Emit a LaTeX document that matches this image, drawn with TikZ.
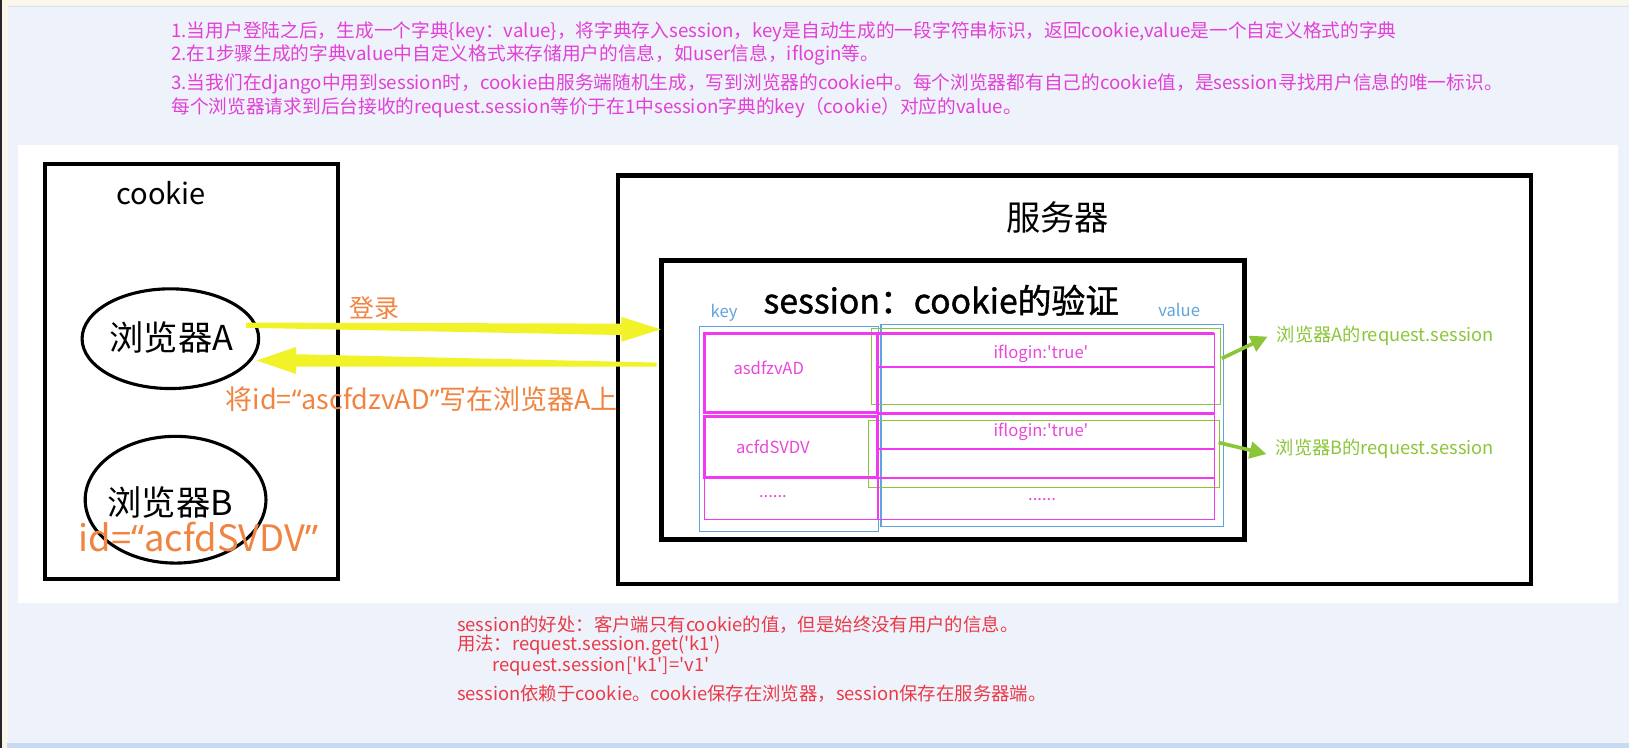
\documentclass[tikz,border=0pt]{standalone}
\usepackage{fontspec}
\newfontfamily\cjk{Noto Sans CJK SC}
\newfontfamily\cjkheavy{Noto Sans CJK SC}[FakeBold=1.2]
\newfontfamily\lat{Noto Sans}
\usetikzlibrary{arrows.meta,calc}
\definecolor{bgc}{RGB}{238,243,251}
\definecolor{beigec}{RGB}{251,246,234}
\definecolor{bandc}{RGB}{200,218,242}
\definecolor{topmag}{RGB}{226,64,214}
\definecolor{boxmag}{RGB}{242,56,240}
\definecolor{tabmag}{RGB}{232,72,220}
\definecolor{redc}{RGB}{234,58,72}
\definecolor{orangec}{RGB}{240,132,64}
\definecolor{yellowc}{RGB}{242,242,40}
\definecolor{greenc}{RGB}{140,198,56}
\definecolor{bluec}{RGB}{96,164,222}
\newcommand\myopenq{{\lat “}}
\newcommand\mycloseq{{\lat ”}}
\begin{document}
\begin{tikzpicture}[x=1pt,y=-1pt,
  every node/.style={inner sep=0pt,outer sep=0pt},
  fs/.style={font=\cjk\fontsize{#1}{#1}\selectfont},
  toptext/.style={fs=18,text=topmag,anchor=west},
  bottext/.style={fs=17.7,text=redc,anchor=west},
  heavybox/.style={draw=black,line width=4pt},
  keybox/.style={draw=bluec,line width=1pt},
  grnbox/.style={draw=greenc,line width=1pt},
  magthick/.style={draw=boxmag,line width=3pt},
  magthin/.style={draw=boxmag,line width=1.5pt},
  tabtext/.style={fs=16,text=tabmag},
  grntext/.style={fs=17.6,text=greenc,anchor=west},
  grnarrow/.style={draw=greenc,line width=3.5pt,-{Triangle[length=16pt,width=16pt]}},
]
\path[use as bounding box] (0,0) rectangle (1568,720);
% background
\fill[bgc] (0,0) rectangle (1568,720);
\fill[beigec] (0,0) rectangle (1568,5);
\draw[black!12,line width=1pt] (6,6) -- (1568,6);
\fill[beigec] (0,0) rectangle (8,720);
\fill[black!85] (0,0) rectangle (2,720);
\fill[bandc] (7,715) rectangle (1568,720);
\fill[white] (17,140) rectangle (1557,580);

% top text
\node[toptext] (t1) at (165,31) {1.当用户登陆之后，生成一个字典\{key：value\}，将字典存入session，key是自动生成的一段字符串标识，返回cookie,value是一个自定义格式的字典};
\node[toptext] (t2) at (165,53) {2.在1步骤生成的字典value中自定义格式来存储用户的信息，如user信息，iflogin等。};
\node[toptext] (t3) at (165,81) {3.当我们在django中用到session时，cookie由服务端随机生成，写到浏览器的cookie中。每个浏览器都有自己的cookie值，是session寻找用户信息的唯一标识。};
\node[toptext] (t4) at (165,104) {每个浏览器请求到后台接收的request.session等价于在1中session字典的key（cookie）对应的value。};

% cookie side
\draw[heavybox] (43,158) rectangle (325,557);
\node[fs=28,text=black] (cookie) at (155,186) {cookie};
\draw[black,line width=3pt] (164,326) ellipse [x radius=85,y radius=48];
\node[fs=33,text=black] (bA) at (165,325) {浏览器A};
\draw[black,line width=3pt] (169,481) ellipse [x radius=87,y radius=61];
\node[fs=33,text=black] (bB) at (164,484) {浏览器B};
\node[fs=35,text=orangec] (idB) at (191,517) {id=\myopenq acfdSVDV\mycloseq};

% server side
\draw[heavybox] (595,169) rectangle (1474,562);
\node[fs=33,text=black] (srv) at (1018,209) {服务器};
\draw[black,line width=5pt] (637,251) rectangle (1198,519);
\node[font=\cjkheavy\fontsize{32.5}{32.5}\selectfont,text=black] (title) at (906,289) {session：cookie的验证};
\node[fs=16,text=bluec] (keyl) at (697,301) {key};
\node[fs=16,text=bluec] (vall) at (1135,298) {value};

% table frames
\draw[keybox] (673,314) rectangle (846,512);
\draw[keybox] (848,312) rectangle (1178,507);
\draw[grnbox] (839,316) rectangle (1175,389);
\draw[grnbox] (836,405) rectangle (1174,469);
% magenta grid
\draw[magthin] (845,321) rectangle (1169,500);
\draw[magthin] (678,460) rectangle (845,500);
\draw[magthin] (845,353) -- (1169,353);
\draw[magthin] (845,432) -- (1169,432);
\draw[magthin] (845,460) -- (1169,460);
\draw[magthick] (678,321) rectangle (845,397);
\draw[magthick] (678,401) rectangle (845,460);
\draw[magthick] (845,321) -- (1169,321);
\draw[magthick] (845,398) -- (1169,398);
\node[tabtext] (k1) at (740,354) {asdfzvAD};
\node[tabtext] (k2) at (744,430) {acfdSVDV};
\node[tabtext] (k3) at (744,478) {......};
\node[tabtext] (v1) at (1002,341) {iflogin:'true'};
\node[tabtext] (v2) at (1002,416) {iflogin:'true'};
\node[tabtext] (v3) at (1003,481) {......};

% yellow arrows
\coordinate (y1s) at (237,313);
\coordinate (y1t) at (636,317);
\fill[yellowc] ($(y1s)+(0,-2.5)$) -- ($(y1t)+(-38,-5.5)$) -- ($(y1t)+(-38,-12)$) -- (y1t)
  -- ($(y1t)+(-38,12)$) -- ($(y1t)+(-38,5.5)$) -- ($(y1s)+(0,2.5)$) -- cycle;
\coordinate (y2s) at (632,351);
\coordinate (y2t) at (247,347);
\fill[yellowc] ($(y2s)+(0,-2)$) -- ($(y2t)+(38,-6)$) -- ($(y2t)+(38,-13)$) -- (y2t)
  -- ($(y2t)+(38,13)$) -- ($(y2t)+(38,6)$) -- ($(y2s)+(0,2)$) -- cycle;
\node[fs=24,text=orangec] (login) at (360,297) {登录};
\node[fs=26,text=orangec] (write) at (406,384) {将id=\myopenq ascfdzvAD\mycloseq 写在浏览器A上};

% green arrows and labels
\coordinate (gAs) at (1176,345);
\coordinate (gAt) at (1220,324);
\coordinate (gBs) at (1173,426);
\coordinate (gBt) at (1219,437);
\draw[grnarrow] (gAs) -- (gAt);
\draw[grnarrow] (gBs) -- (gBt);
\node[grntext] (lA) at (1229,323) {浏览器A的request.session};
\node[grntext] (lB) at (1228,432) {浏览器B的request.session};

% bottom text
\node[bottext] (b1) at (440,601) {session的好处：客户端只有cookie的值，但是始终没有用户的信息。};
\node[bottext] (b2) at (440,621) {用法：request.session.get('k1')};
\node[bottext] (b3) at (474,641) {request.session['k1']='v1'};
\node[bottext] (b4) at (440,668) {session依赖于cookie。cookie保存在浏览器，session保存在服务器端。};
\end{tikzpicture}
\end{document}
